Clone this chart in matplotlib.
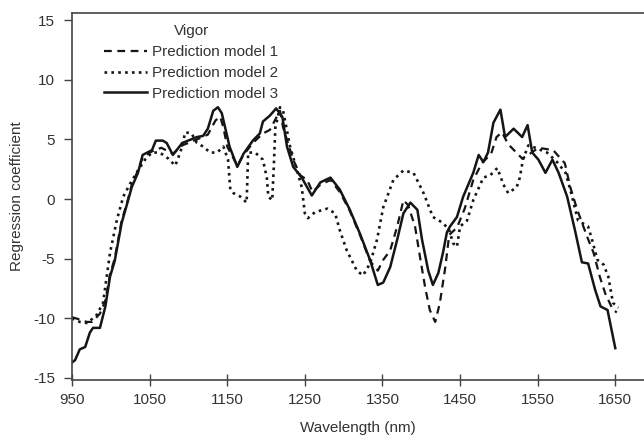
import matplotlib
matplotlib.use('Agg')
import matplotlib.pyplot as plt

# Prediction model 1 (dashed)
wl_m1 = [950, 960, 969, 976, 986, 993, 999, 1005, 1014, 1021, 1027, 1035, 1041, 1053, 1065,
         1080, 1092, 1111, 1125, 1135, 1141, 1145, 1150, 1163, 1171, 1183, 1196, 1205, 1213,
         1218, 1222, 1235, 1244, 1253, 1260, 1270, 1283, 1295, 1308, 1321, 1334, 1344, 1351,
         1360, 1369, 1377, 1383, 1392, 1399, 1405, 1411, 1418, 1424, 1431, 1436, 1446, 1456,
         1467, 1478, 1490, 1497, 1504, 1512, 1521, 1530, 1540, 1551, 1570, 1585, 1592,
         1601, 1614, 1622, 1630, 1637, 1647, 1652]
coef_m1 = [-9.9, -10.1, -10.3, -10.3, -9.6, -8.5, -6.3, -5.0, -1.8, -0.3, 1.2, 2.4, 3.5, 4.0, 4.3,
           3.8, 4.5, 5.0, 5.4, 6.6, 6.9, 6.0, 4.4, 2.8, 3.7, 4.7, 5.5, 5.8, 6.8,
           7.4, 6.0, 3.3, 2.0, 1.6, 0.6, 1.2, 1.6, 0.6, -1.0, -3.0, -5.2, -6.0, -5.1,
           -4.3, -2.3, -0.1, -0.5, -2.3, -5.1, -7.4, -9.3, -10.3, -8.7, -5.7, -3.0, -2.4, -0.8,
           1.6, 3.0, 3.8, 5.2, 5.6, 4.6, 4.0, 3.4, 3.8, 4.3, 4.1, 3.0, 1.0,
           -0.9, -3.2, -4.5, -6.5, -7.9, -9.3, -9.5]

# Prediction model 2 (dotted)
wl_m2 = [950, 960, 970, 982, 990, 999, 1008, 1016, 1025, 1035, 1044, 1053, 1063, 1074, 1083,
         1090, 1096, 1104, 1111, 1119, 1128, 1137, 1145, 1151, 1154, 1158, 1167, 1175, 1177,
         1186, 1196, 1201, 1203, 1208, 1210, 1212, 1218, 1222, 1231, 1240, 1246, 1250, 1254,
         1263, 1279, 1289, 1295, 1304, 1317, 1325, 1334, 1343, 1351, 1364, 1377, 1390, 1403,
         1415, 1428, 1436, 1441, 1446, 1450, 1459, 1467, 1480, 1489, 1498, 1506, 1512, 1523,
         1527, 1531, 1538, 1547, 1562, 1575, 1586, 1592, 1602, 1615, 1620, 1627, 1635, 1641,
         1647, 1654]
coef_m2 = [-10.0, -10.3, -10.4, -9.7, -8.7, -4.5, -1.7, 0.2, 1.3, 2.4, 3.3, 3.9, 3.9, 3.4, 2.8,
           4.0, 5.6, 5.5, 4.7, 4.4, 3.9, 3.9, 4.4, 3.3, 0.8, 0.5, 0.2, -0.3, 3.9,
           3.9, 3.3, 1.8, 0.2, -0.1, 2.7, 6.0, 7.7, 7.4, 4.4, 2.4, 1.0, -1.2, -1.6,
           -1.1, -0.8, -1.2, -2.6, -4.3, -6.0, -6.4, -5.4, -3.4, -0.7, 1.6, 2.4, 2.2, 0.5,
           -1.5, -2.0, -2.6, -3.7, -4.0, -2.3, -1.8, -0.1, 1.8, 2.0, 2.6, 1.2, 0.5, 1.0,
           1.8, 3.3, 4.5, 4.3, 3.9, 3.1, 2.2, 0.8, -1.8, -2.3, -3.4, -5.1, -5.5, -6.5,
           -8.7, -9.1]

# Prediction model 3 (solid)
wl_m3 = [950, 954, 960, 967, 973, 977, 986, 993, 999, 1005, 1014, 1021, 1027, 1035, 1041, 1047,
         1053, 1058, 1067, 1072, 1080, 1092, 1111, 1119, 1125, 1132, 1138, 1143, 1153, 1163,
         1171, 1183, 1192, 1196, 1205, 1213, 1221, 1227, 1235, 1246, 1259, 1270, 1283, 1295,
         1308, 1321, 1334, 1344, 1351, 1360, 1369, 1377, 1386, 1395, 1401, 1409, 1415, 1422,
         1428, 1433, 1437, 1446, 1454, 1467, 1474, 1480, 1486, 1493, 1502, 1508, 1519, 1530,
         1537, 1543, 1551, 1560, 1569, 1577, 1588, 1598, 1607, 1615, 1624, 1631, 1640, 1650]
coef_m3 = [-13.7, -13.5, -12.6, -12.4, -11.2, -10.8, -10.8, -9.0, -6.5, -5.2, -2.0, -0.4, 1.0, 2.2, 3.7, 3.9,
           4.1, 4.9, 4.9, 4.7, 3.7, 4.7, 5.2, 5.3, 5.9, 7.4, 7.7, 7.2, 4.4, 2.7,
           3.8, 4.9, 5.5, 6.5, 7.0, 7.6, 6.9, 4.4, 2.7, 1.8, 0.3, 1.4, 1.8, 0.8,
           -0.9, -2.9, -5.1, -7.2, -7.0, -5.7, -3.4, -1.2, -0.3, -0.9, -3.4, -6.0, -7.2, -6.2,
           -4.5, -2.8, -2.3, -1.5, 0.2, 2.2, 3.7, 3.1, 3.9, 6.4, 7.5, 5.2, 5.9, 5.2,
           6.2, 3.9, 3.3, 2.2, 3.3, 2.2, 0.2, -2.6, -5.3, -5.4, -7.6, -9.0, -9.3, -12.5]

xticks = [950, 1050, 1150, 1250, 1350, 1450, 1550, 1650]
yticks = [-15, -10, -5, 0, 5, 10, 15]

plt.rcParams['font.family'] = ['Liberation Sans', 'DejaVu Sans']
plt.rcParams['axes.unicode_minus'] = False
txt = '#333333'
ink = '#151515'

fig = plt.figure(figsize=(6.44, 4.37), dpi=100)
ax = fig.add_axes([0.1118, 0.1304, 0.8882, 0.8396])

ax.plot(wl_m1, coef_m1, color=ink, linewidth=1.6, linestyle=(0, (3.5, 2.5)),
        label='Prediction model 1')
ax.plot(wl_m2, coef_m2, color=ink, linewidth=1.9, linestyle=(0, (1.0, 1.6)),
        label='Prediction model 2')
ax.plot(wl_m3, coef_m3, color=ink, linewidth=1.8, linestyle='-',
        label='Prediction model 3')

ax.set_xlim(950, 1687)
ax.set_ylim(-15.17, 15.59)
ax.set_xticks(xticks)
ax.set_yticks(yticks)

ax.spines['right'].set_visible(False)
for s in ['left', 'bottom', 'top']:
    ax.spines[s].set_color('#444444')
    ax.spines[s].set_linewidth(1.2)

ax.tick_params(axis='x', direction='inout', length=8.5, width=1.0, colors='#444444',
               labelcolor=txt, labelsize=11, pad=5)
ax.tick_params(axis='y', direction='out', length=6, width=1.0, colors='#444444',
               labelcolor=txt, labelsize=11, pad=6)

ax.set_xlabel('Wavelength (nm)', fontsize=11, color=txt, labelpad=10)
ax.set_ylabel('Regression coefficient', fontsize=11, color=txt, labelpad=7)

leg = ax.legend(title='Vigor', loc='upper left', bbox_to_anchor=(0.056, 0.97),
                frameon=False, fontsize=11, title_fontsize=11, handlelength=2.8,
                handletextpad=0.35, labelspacing=0.45, borderpad=0, borderaxespad=0)
for t in leg.get_texts():
    t.set_color(txt)
leg.get_title().set_color(txt)

fig.savefig('out.png', dpi=100)
